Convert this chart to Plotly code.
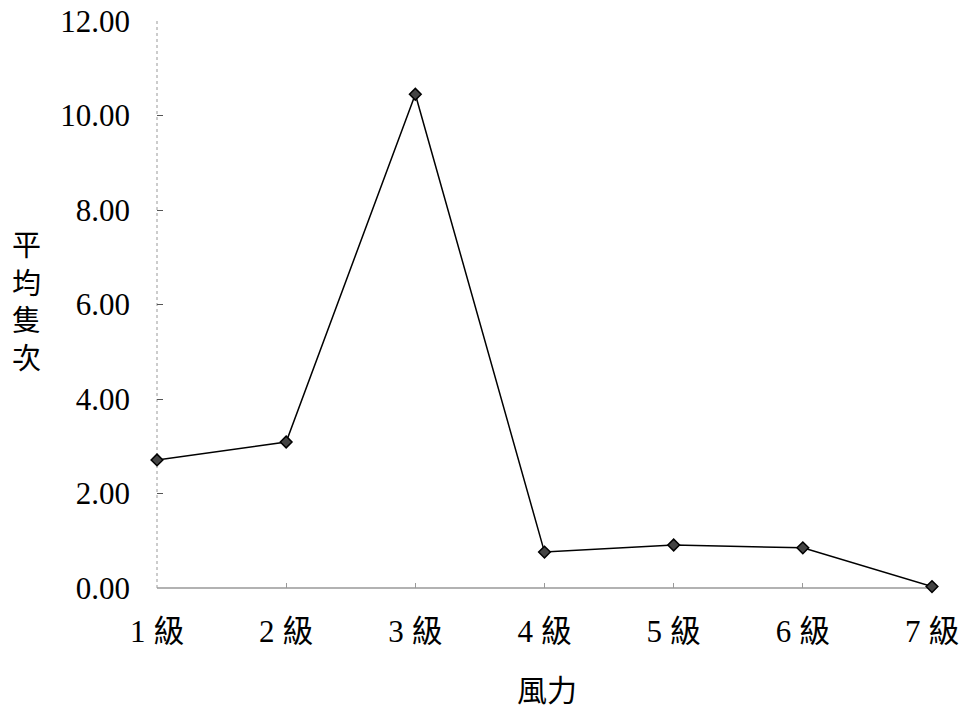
import plotly.graph_objects as go

categories = ["1 級", "2 級", "3 級", "4 級", "5 級", "6 級", "7 級"]
values = [2.71, 3.09, 10.45, 0.76, 0.91, 0.85, 0.03]
y_ticks = [0, 2, 4, 6, 8, 10, 12]
y_tick_labels = ["0.00", "2.00", "4.00", "6.00", "8.00", "10.00", "12.00"]
x_title = "風力"
y_title = "平均隻次"

FONT = "Liberation Serif, Noto Sans CJK TC, serif"

fig = go.Figure()
fig.add_trace(go.Scatter(
    x=list(range(len(categories))), y=values, mode="lines+markers",
    line=dict(color="black", width=1.5),
    marker=dict(symbol="diamond", size=9, color="#444444",
                line=dict(color="black", width=1.5)),
    showlegend=False, cliponaxis=False,
))

fig.update_layout(
    width=968, height=711,
    margin=dict(l=157, r=36, t=21, b=123),
    paper_bgcolor="white", plot_bgcolor="white",
    font=dict(family=FONT, size=31, color="black"),
    xaxis=dict(
        range=[0, len(categories) - 1], automargin=False,
        tickmode="array", tickvals=list(range(len(categories))), ticktext=categories,
        showgrid=False, zeroline=False, showline=False,
        ticks="inside", ticklen=5, tickcolor="#999999",
        ticklabelstandoff=22,
        tickfont=dict(family=FONT, size=31),
    ),
    yaxis=dict(
        range=[0, 12], automargin=False,
        tickmode="array", tickvals=y_ticks, ticktext=y_tick_labels,
        showgrid=False, zeroline=False, showline=False,
        ticks="inside", ticklen=6, tickcolor="#555555",
        ticklabelstandoff=26,
        tickfont=dict(family=FONT, size=31),
    ),
)

fig.add_shape(type="line", xref="paper", yref="paper", x0=0, x1=1, y0=0, y1=0,
              line=dict(color="#999999", width=1.5), layer="below")
fig.add_shape(type="line", xref="paper", yref="paper", x0=0, x1=0, y0=0, y1=1,
              line=dict(color="#999999", width=1, dash="dot"), layer="below")

fig.add_annotation(text=x_title, xref="paper", yref="paper", x=0.503, y=-0.18,
                   showarrow=False, font=dict(family=FONT, size=30), yanchor="middle")
fig.add_annotation(text="<br>".join(list(y_title)), xref="paper", yref="paper",
                   x=-0.168, y=0.503, showarrow=False, align="center",
                   font=dict(family=FONT, size=29), xanchor="center", yanchor="middle")

fig.write_html("out.html", config={"displayModeBar": False},
               post_script="document.body.style.margin='0px';document.body.style.overflow='hidden';")
